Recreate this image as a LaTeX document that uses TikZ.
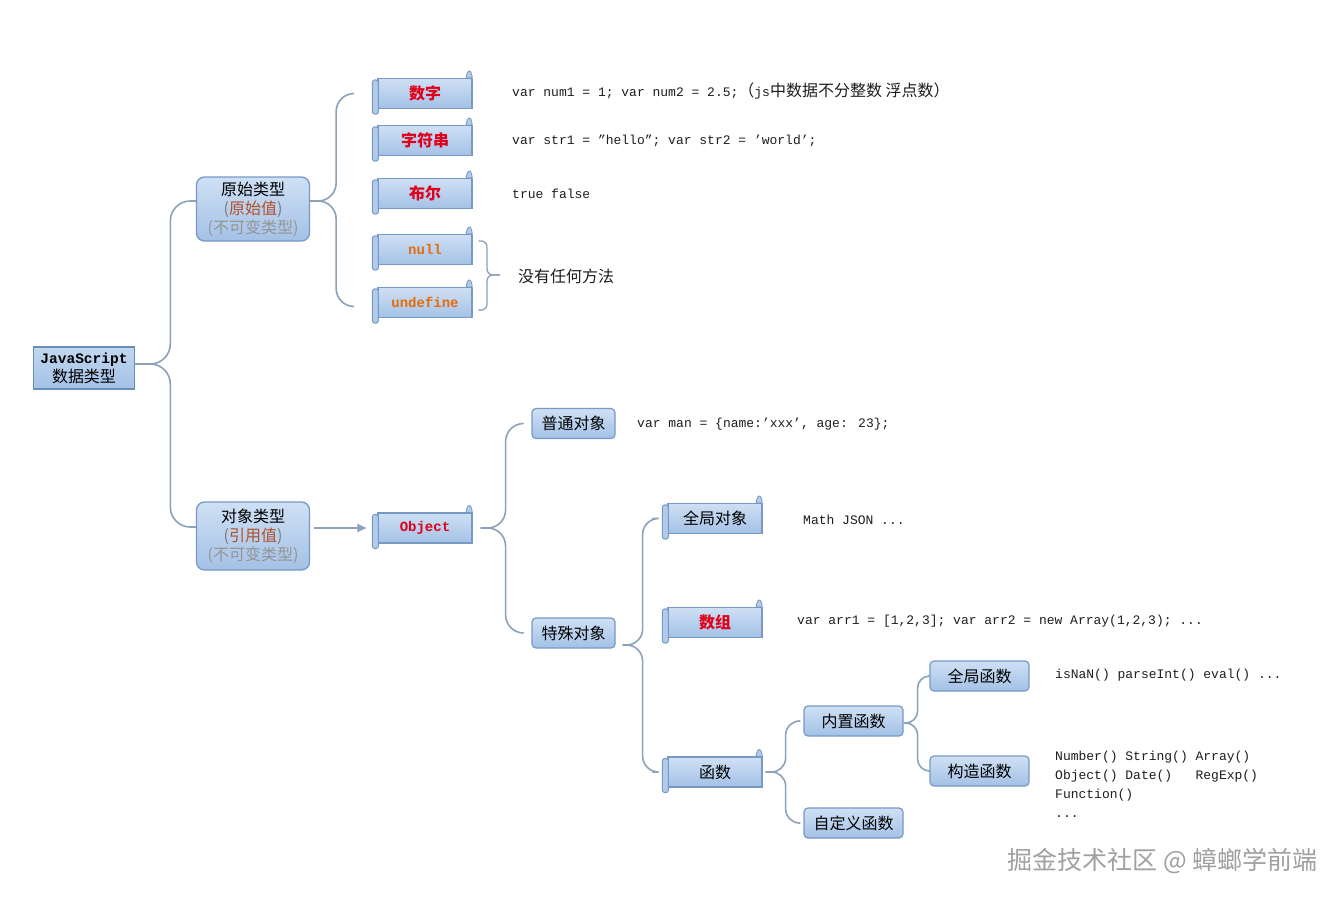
\documentclass[tikz,border=0pt]{standalone}
\usepackage{fontspec}
\setmainfont{Noto Sans CJK SC}
\newfontfamily\cjk{Noto Sans CJK SC}
\newfontfamily\codefont{Liberation Mono}
\usetikzlibrary{arrows.meta}
\definecolor{fTop}{HTML}{CFE0F4}
\definecolor{fBot}{HTML}{A3C1E6}
\definecolor{bordc}{HTML}{7799C4}
\definecolor{connc}{HTML}{8DA2B8}
\definecolor{rollc}{HTML}{B3CBEA}
\definecolor{redc}{HTML}{E0001B}
\definecolor{orgc}{HTML}{E46C0A}
\definecolor{brnc}{HTML}{B0502A}
\definecolor{gpar}{HTML}{7A7A7A}
\definecolor{glt}{HTML}{959595}
\definecolor{codec}{HTML}{1E1E1E}
\definecolor{wmc}{HTML}{A0A0A0}
\definecolor{jsbord}{HTML}{6A8DBA}
\newcommand\lblfont{\fontsize{16}{19}\selectfont}
\newcommand\scrolldeco[1]{%
  \draw[rollst] ([shift={(-5pt,-2pt)}]#1.north west) rectangle ([shift={(1pt,-5pt)}]#1.south west);
  \draw[tabst] ([shift={(-7pt,0pt)}]#1.north east) -- ([shift={(-4.5pt,7pt)}]#1.north east)
     -- ([shift={(-2pt,7pt)}]#1.north east) -- (#1.north east) -- cycle;
}
\tikzset{
  scrollbox/.style={rectangle, draw=bordc, line width=1.2pt, top color=fTop, bottom color=fBot,
     minimum width=94pt, minimum height=30pt, inner sep=0pt, font=\lblfont},
  rollst/.style={draw=bordc, line width=1pt, fill=rollc, rounded corners=2.5pt},
  tabst/.style={draw=bordc, line width=0.8pt, fill=rollc, rounded corners=1.2pt},
  rbox/.style={rectangle, rounded corners=4pt, draw=bordc, line width=1.2pt, top color=fTop,
     bottom color=fBot, minimum height=30pt, inner sep=0pt, font=\lblfont},
  bigbox/.style={rectangle, rounded corners=8pt, draw=bordc, line width=1.3pt, top color=fTop,
     bottom color=fBot, minimum width=113pt, minimum height=64pt, inner sep=2pt, align=center,
     font=\lblfont},
  jsbox/.style={rectangle, draw=jsbord, line width=1.6pt, top color=fTop!70!fBot,
     bottom color=fBot, minimum width=101pt, minimum height=42pt, inner sep=1pt, align=center,
     font=\lblfont},
  conn/.style={draw=connc, line width=1.6pt, rounded corners=#1},
  conn/.default=16pt,
  brc/.style={draw=connc, line width=1.3pt, rounded corners=6pt},
  codet/.style={anchor=west, inner sep=0pt, text=codec, font=\codefont\fontsize{13}{19}\selectfont},
  cjkt/.style={anchor=west, inner sep=0pt, text=codec, font=\cjk\fontsize{16}{19}\selectfont},
}
\begin{document}
\begin{tikzpicture}[x=1pt,y=-1pt]
\fill[white] (0,0) rectangle (1342,900);
\useasboundingbox (0,0) rectangle (1342,900);

% root
\node[jsbox] (js) at (84,368) {{\codefont\bfseries\fontsize{14.5}{19}\selectfont JavaScript}\\数据类型};

% level 1
\node[bigbox] (yuan) at (253,209) {原始类型\\{\color{gpar}(}{\color{brnc}原始值}{\color{gpar})}\\{\color{glt}(不可变类型)}};
\node[bigbox, minimum height=68pt] (dx) at (253,536) {对象类型\\{\color{gpar}(}{\color{brnc}引用值}{\color{gpar})}\\{\color{glt}(不可变类型)}};

% primitive scrolls
\node[scrollbox, text=redc] (num) at (425,93.5) {\bfseries 数字};
\node[scrollbox, text=redc] (str) at (425,140.5) {\bfseries 字符串};
\node[scrollbox, text=redc] (bool) at (425,193.5) {\bfseries 布尔};
\node[scrollbox, text=orgc] (nul) at (425,249.5) {\codefont\bfseries\fontsize{14}{16}\selectfont null};
\node[scrollbox, text=orgc] (und) at (425,302.5) {\codefont\bfseries\fontsize{14}{16}\selectfont undefine};
\node[scrollbox, text=redc] (object) at (425,528) {\codefont\bfseries\fontsize{14}{16}\selectfont Object};
\foreach \n in {num,str,bool,nul,und,object} {\scrolldeco{\n}}

% object children
\node[rbox, minimum width=83pt] (pt) at (573.5,423.5) {普通对象};
\node[rbox, minimum width=83pt] (ts) at (573.5,633) {特殊对象};

\node[scrollbox] (qjdx) at (715,518.5) {全局对象};
\node[scrollbox, text=redc] (arr) at (715,622.5) {\bfseries 数组};
\node[scrollbox] (hs) at (715,772) {函数};
\foreach \n in {qjdx,arr,hs} {\scrolldeco{\n}}

\node[rbox, minimum width=99pt] (nz) at (853.5,721) {内置函数};
\node[rbox, minimum width=99pt] (zdy) at (853.5,823) {自定义函数};
\node[rbox, minimum width=99pt] (qjhs) at (979.5,676) {全局函数};
\node[rbox, minimum width=99pt] (gz) at (979.5,771) {构造函数};

% connectors
\draw[conn=20pt] ([yshift=4pt]js.east) -- ++(35,0) |- ([yshift=8pt]yuan.west);
\draw[conn=20pt] ([yshift=4pt]js.east) -- ++(35,0) |- ([yshift=9pt]dx.west);

\draw[conn=18pt] ([yshift=8pt]yuan.east) -- ++(26,0) |- ([xshift=-24pt]num.west);
\draw[conn=18pt] ([yshift=8pt]yuan.east) -- ++(26,0) |- ([xshift=-24pt,yshift=-4pt]und.west);

\draw[draw=connc, line width=1.6pt, -{Triangle[length=9pt,width=8pt]}] ([xshift=4pt,yshift=8pt]dx.east) -- ([xshift=-11pt]object.west);

\draw[conn=18pt] ([xshift=8pt]object.east) -- ++(25,0) |- ([xshift=-9pt]pt.west);
\draw[conn=18pt] ([xshift=8pt]object.east) -- ++(25,0) |- ([xshift=-9pt]ts.west);

\draw[conn=16pt] ([xshift=7pt,yshift=-12pt]ts.east) -- ++(20,0) |- ([xshift=-15pt]qjdx.west);
\draw[conn=16pt] ([xshift=7pt,yshift=-12pt]ts.east) -- ++(20,0) |- ([xshift=-15pt]hs.west);

\draw[conn=14pt] ([xshift=3pt]hs.east) -- ++(20,0) |- ([xshift=-3pt]nz.west);
\draw[conn=14pt] ([xshift=3pt]hs.east) -- ++(20,0) |- ([xshift=-3pt]zdy.west);

\draw[conn=12pt] ([yshift=-2pt]nz.east) -- ++(14,0) |- ([xshift=-1pt]qjhs.west);
\draw[conn=12pt] ([yshift=-2pt]nz.east) -- ++(14,0) |- ([xshift=-1pt]gz.west);

% brace for null / undefine
\coordinate (tip) at (500,275);
\draw[brc] ([shift={(6pt,-7pt)}]nul.north east) -| ([xshift=-13pt]tip) -- (tip);
\draw[brc] ([shift={(6pt,8pt)}]und.south east) -| ([xshift=-13pt]tip) -- (tip);
\node[cjkt] (nomethod) at (518,276) {没有任何方法};

% code texts
\node[codet] (c1) at (512,91) {var num1 = 1; var num2 = 2.5;{\cjk\fontsize{16}{19}\selectfont （}js{\cjk\fontsize{16}{19}\selectfont 中数据不分整数 浮点数）}};
\node[codet] (c2) at (512,141) {var str1 = ”hello”; var str2 = ’world’;};
\node[codet] (c3) at (512,194) {true false};
\node[codet] (c4) at (637,424) {var man = \{name:’xxx’, age: 23\};};
\node[codet] (c5) at (803,520) {Math JSON ...};
\node[codet] (c6) at (797,621) {var arr1 = [1,2,3]; var arr2 = new Array(1,2,3); ...};
\node[codet] (c7) at (1055,675) {isNaN() parseInt() eval() ...};
\node[codet, anchor=north west, align=left] (c8) at (1055,751) {Number() String() Array()\\Object() Date()\ \ \ RegExp()\\Function()\\...};

% watermark
\node[anchor=east, inner sep=0pt, text=wmc, font=\cjk\fontsize{25}{27}\selectfont] (wm) at (1318,861) {掘金技术社区 @ 蟑螂学前端};
\end{tikzpicture}
\end{document}
